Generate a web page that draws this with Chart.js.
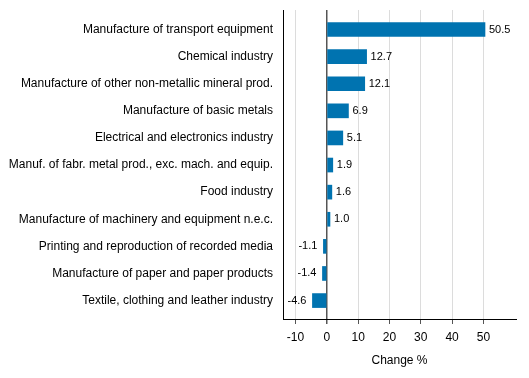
<!DOCTYPE html>
<html>
<head>
<meta charset="utf-8">
<script src="https://cdn.jsdelivr.net/npm/chart.js@4/dist/chart.umd.min.js"></script>
<style>
html,body{margin:0;padding:0;background:#fff;}
#wrap{width:529px;height:378px;position:relative;}
</style>
</head>
<body>
<div id="wrap"><canvas id="c" width="529" height="378"></canvas></div>
<script>
const categories = [
  "Manufacture of transport equipment",
  "Chemical industry",
  "Manufacture of other non-metallic mineral prod.",
  "Manufacture of basic metals",
  "Electrical and electronics industry",
  "Manuf. of fabr. metal prod., exc. mach. and equip.",
  "Food industry",
  "Manufacture of machinery and equipment n.e.c.",
  "Printing and reproduction of recorded media",
  "Manufacture of paper and paper products",
  "Textile, clothing and leather industry"
];
const values = [50.5, 12.7, 12.1, 6.9, 5.1, 1.9, 1.6, 1.0, -1.1, -1.4, -4.6];
const xTicks = [-10, 0, 10, 20, 30, 40, 50];
const axisTitle = "Change %";

const FONT = "'Liberation Sans', Arial, sans-serif";

const valueLabels = {
  id: 'valueLabels',
  afterDatasetsDraw(chart) {
    const ctx = chart.ctx;
    const meta = chart.getDatasetMeta(0);
    ctx.save();
    ctx.font = "11px " + FONT;
    ctx.fillStyle = "#000";
    ctx.textBaseline = "middle";
    meta.data.forEach((bar, i) => {
      const v = values[i];
      const txt = v.toFixed(1);
      if (v >= 0) {
        ctx.textAlign = "left";
        ctx.fillText(txt, bar.x + 4, bar.y);
      } else {
        ctx.textAlign = "right";
        ctx.fillText(txt, bar.x - 6, bar.y);
      }
    });
    ctx.restore();
  }
};

new Chart(document.getElementById('c'), {
  type: 'bar',
  data: {
    datasets: [{
      data: values.map((v, i) => ({x: v, y: i})),
      backgroundColor: '#0073B0',
      borderWidth: 0,
      barThickness: 14
    }]
  },
  options: {
    indexAxis: 'y',
    responsive: false,
    animation: false,
    devicePixelRatio: 1,
    layout: {padding: {top: 10, right: 13, left: 0, bottom: 0}},
    plugins: {legend: {display: false}, tooltip: {enabled: false}},
    scales: {
      x: {
        type: 'linear',
        min: -14,
        max: 60.4,
        afterBuildTicks(scale) { scale.ticks = xTicks.map(v => ({value: v})); },
        afterFit(scale) { scale.height = 59; scale.paddingLeft = 0; scale.paddingRight = 0; },
        ticks: {
          font: {family: FONT, size: 12},
          color: '#000',
          padding: 6,
          callback: v => String(v)
        },
        grid: {
          color: ctx => (ctx.tick && ctx.tick.value === 0) ? '#555555' : '#dcdcdc',
          lineWidth: ctx => (ctx.tick && ctx.tick.value === 0) ? 1.5 : 1,
          tickColor: '#555555',
          tickLength: 5,
          drawTicks: true
        },
        border: {display: true, color: '#000', width: 1},
        title: {
          display: true,
          text: axisTitle,
          font: {family: FONT, size: 12},
          color: '#000',
          padding: {top: 4, bottom: 10}
        }
      },
      y: {
        type: 'linear',
        reverse: true,
        offset: false,
        min: -0.72,
        max: 10.68,
        afterBuildTicks(scale) { scale.ticks = categories.map((c, i) => ({value: i})); },
        afterFit(scale) { scale.width = 283; scale.paddingTop = 0; scale.paddingBottom = 0; },
        ticks: {
          font: {family: FONT, size: 12},
          color: '#000',
          padding: 10,
          callback: v => categories[v]
        },
        grid: {display: false, drawTicks: false, offset: false},
        border: {display: true, color: '#000', width: 1}
      }
    }
  },
  plugins: [valueLabels]
});
</script>
</body>
</html>
